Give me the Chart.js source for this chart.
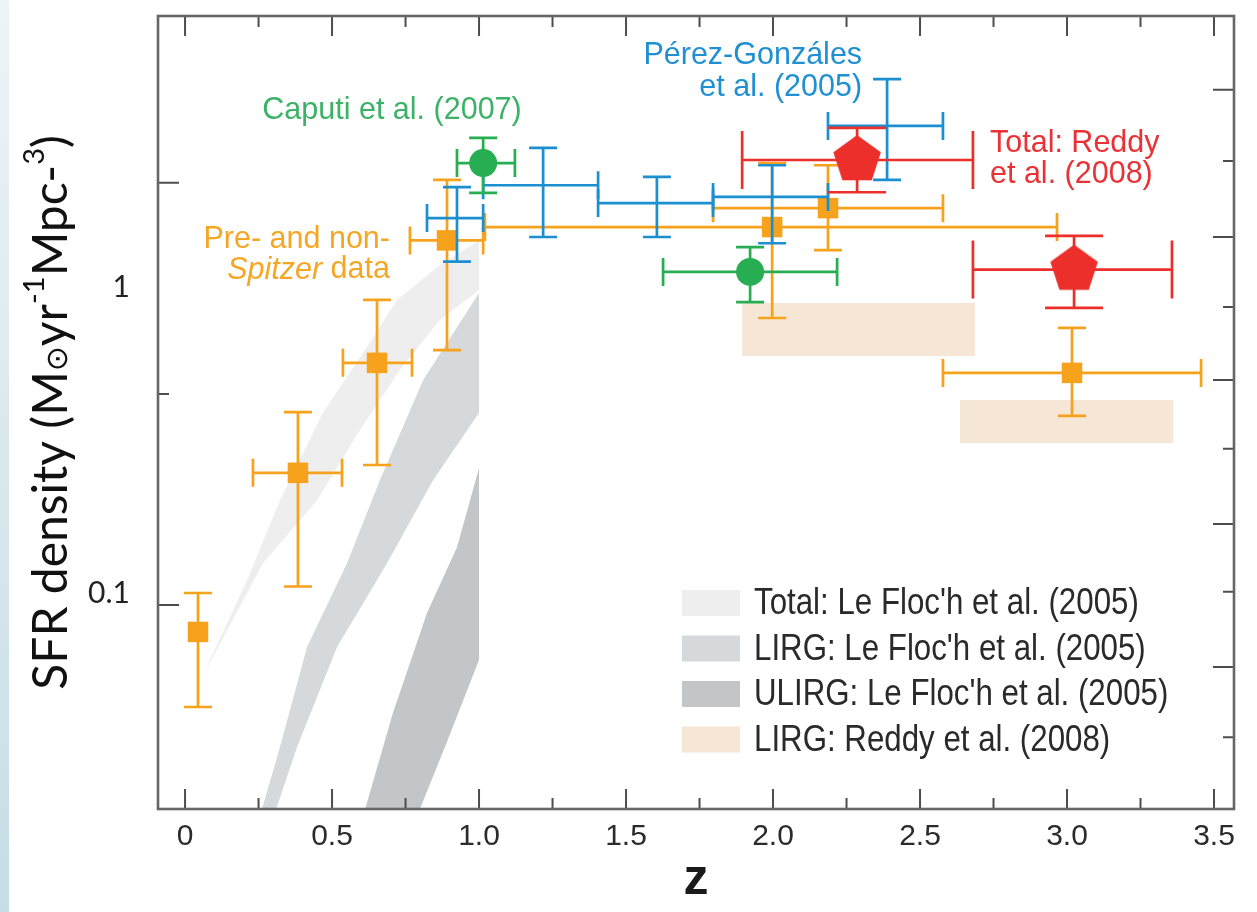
<!DOCTYPE html>
<html>
<head>
<meta charset="utf-8">
<title>SFR density vs redshift</title>
<script src="https://cdn.jsdelivr.net/npm/chart.js@4.4.1/dist/chart.umd.min.js"></script>
<style>
  html, body { margin: 0; padding: 0; background: #fff; }
  body { width: 1257px; height: 912px; overflow: hidden; position: relative; }
  #wrap { position: absolute; left: 0; top: 0; width: 1257px; height: 912px; }
  #edge { position: absolute; left: 0; top: 0; width: 9px; height: 912px;
          background: linear-gradient(#edf4f6, #c6dde5); }
</style>
</head>
<body>
<div id="wrap"><canvas id="sfr" width="1257" height="912"></canvas></div>
<div id="edge"></div>
<script>
// axis ticks
const zTicks = [0, 0.25, 0.5, 0.75, 1, 1.25, 1.5, 1.75, 2, 2.25, 2.5, 2.75, 3, 3.25, 3.5];
const zLabels = [0, 0.5, 1, 1.5, 2, 2.5, 3, 3.5];
const sfrLabels = [1, 0.1];
const leftTicks = [2.19, 0.447, 0.0913];
const rightTicks = [4.41, 2.58, 1.457, 0.860, 0.497, 0.296, 0.168, 0.101, 0.0573, 0.0338];

// Pre- and non-Spitzer data (orange squares)
const preZ   = [0.044, 0.384, 0.653, 0.891, 1.997, 2.187, 3.017];
const preZLo = [null, 0.231, 0.537, 0.765, 1.020, 1.796, 2.578];
const preZHi = [null, 0.534, 0.772, 1.014, 2.966, 2.578, 3.456];
const preSfr = [0.0746, 0.247, 0.565, 1.42, 1.57, 1.81, 0.524];
const preLo  = [0.0424, 0.105, 0.262, 0.622, 0.792, 1.32, 0.379];
const preHi  = [0.100, 0.390, 0.907, 2.24, 2.54, 2.50, 0.735];

// Perez-Gonzalez et al. (2005), error bars only
const pgZ   = [0.925, 1.218, 1.605, 1.997, 2.388];
const pgZLo = [0.823, 1.014, 1.405, 1.796, 2.187];
const pgZHi = [1.014, 1.405, 1.796, 2.187, 2.578];
const pgSfr = [1.68, 2.15, 1.88, 1.97, 3.36];
const pgLo  = [1.21, 1.457, 1.457, 1.39, 2.24];
const pgHi  = [2.12, 2.85, 2.29, 2.50, 4.78];

// Caputi et al. (2007)
const capZ   = [1.014, 1.922];
const capZLo = [0.925, 1.626];
const capZHi = [1.122, 2.218];
const capSfr = [2.54, 1.12];
const capLo  = [2.03, 0.893];
const capHi  = [3.07, 1.35];

// Total: Reddy et al. (2008)
const redZ   = [2.286, 3.024];
const redZLo = [1.895, 2.680];
const redZHi = [2.680, 3.357];
const redSfr = [2.60, 1.14];
const redLo  = [2.04, 0.854];
const redHi  = [3.31, 1.47];

// LIRG: Reddy et al. (2008) boxes
const lirgRedZ   = [[1.895, 2.687], [2.636, 3.361]];
const lirgRedSfr = [[0.595, 0.887], [0.309, 0.427]];

// Le Floc'h et al. (2005) bands, outline traced round each band
const totalBandZ   = [0.058, 0.211, 0.323, 0.469, 0.619, 0.721, 0.867, 1.0, 1.0, 0.867, 0.731, 0.595, 0.449, 0.265, 0.058];
const totalBandSfr = [0.0531, 0.110, 0.201, 0.388, 0.637, 0.907, 1.18, 1.42, 0.978, 0.780, 0.536, 0.341, 0.201, 0.125, 0.0531];
const lirgBandZ    = [0.241, 0.323, 0.415, 0.551, 0.663, 0.810, 1.0, 1.0, 0.844, 0.687, 0.517, 0.381, 0.286];
const lirgBandSfr  = [0.0168, 0.0314, 0.0666, 0.125, 0.234, 0.497, 0.956, 0.388, 0.234, 0.125, 0.0666, 0.0314, 0.0168];
const ulirgBandZ   = [0.592, 0.707, 0.823, 0.925, 1.0, 1.0, 0.884, 0.770];
const ulirgBandSfr = [0.0168, 0.0405, 0.086, 0.141, 0.256, 0.0604, 0.0314, 0.0168];

const ORANGE = '#f6a21c', BLUE = '#1b8fd0', GREEN = '#27ad52', RED = '#ec2f2b';
const SANS = '"Liberation Sans", Arial, sans-serif';

function pts(zs, vs) { return zs.map((z, i) => ({ x: z, y: vs[i] })); }
function box(zr, vr) {
  return [{ x: zr[0], y: vr[0] }, { x: zr[1], y: vr[0] }, { x: zr[1], y: vr[1] }, { x: zr[0], y: vr[1] }, { x: zr[0], y: vr[0] }];
}
function pentagon(r, color) {
  const c = document.createElement('canvas');
  const s = Math.ceil(r * 2) + 2;
  c.width = s; c.height = s;
  const g = c.getContext('2d');
  g.fillStyle = color;
  g.beginPath();
  for (let k = 0; k < 5; k++) {
    const a = -Math.PI / 2 + k * 2 * Math.PI / 5;
    const px = s / 2 + r * Math.cos(a), py = s / 2 + r * Math.sin(a);
    if (k) g.lineTo(px, py); else g.moveTo(px, py);
  }
  g.closePath();
  g.fill();
  return c;
}

function band(label, zs, vs, color, order, inLegend) {
  return {
    type: 'line', label: label, data: pts(zs, vs), order: order,
    backgroundColor: color, borderColor: 'rgba(0,0,0,0)', borderWidth: 0,
    pointRadius: 0, fill: 'shape', tension: 0, showLine: true, inLegend: inLegend
  };
}
function series(label, zs, vs, err, color, style, radius, order) {
  return {
    label: label, data: pts(zs, vs), order: order, errors: err, errColor: color,
    backgroundColor: color, borderWidth: 0, pointStyle: style, pointRadius: radius,
    pointHoverRadius: radius
  };
}

const annotations = [
  { parts: [{ t: 'Caputi et al. (2007)' }], z: 0.704, v: 3.85, align: 'center', color: '#3cb267' },
  { parts: [{ t: 'Pérez-Gonzáles' }], z: 2.303, v: 5.82, align: 'right', color: '#2090d2' },
  { parts: [{ t: 'et al. (2005)' }], z: 2.303, v: 4.57, align: 'right', color: '#2090d2' },
  { parts: [{ t: 'Total: Reddy' }], z: 2.738, v: 3.02, align: 'left', color: '#ea3135' },
  { parts: [{ t: 'et al. (2008)' }], z: 2.738, v: 2.38, align: 'left', color: '#ea3135' },
  { parts: [{ t: 'Pre- and non-' }], z: 0.697, v: 1.457, align: 'right', color: '#f6a623' },
  { parts: [{ t: 'Spitzer', italic: true }, { t: ' data' }], z: 0.697, v: 1.162, align: 'right', color: '#f6a623' }
];
const NOTE_SIZE = 30.5;

function drawErrors(chart, ds) {
  const ctx = chart.ctx, xs = chart.scales.x, ys = chart.scales.y, e = ds.errors;
  ctx.save();
  ctx.strokeStyle = ds.errColor;
  ctx.lineWidth = 2.7;
  const cap = e.cap / 2;
  e.z.forEach((z, i) => {
    const x = xs.getPixelForValue(z), y = ys.getPixelForValue(e.v[i]);
    const yl = ys.getPixelForValue(e.lo[i]), yh = ys.getPixelForValue(e.hi[i]);
    ctx.beginPath();
    ctx.moveTo(x, yl); ctx.lineTo(x, yh);
    ctx.moveTo(x - cap, yl); ctx.lineTo(x + cap, yl);
    ctx.moveTo(x - cap, yh); ctx.lineTo(x + cap, yh);
    if (e.zLo[i] !== null) {
      const xl = xs.getPixelForValue(e.zLo[i]), xh = xs.getPixelForValue(e.zHi[i]);
      ctx.moveTo(xl, y); ctx.lineTo(xh, y);
      ctx.moveTo(xl, y - cap); ctx.lineTo(xl, y + cap);
      ctx.moveTo(xh, y - cap); ctx.lineTo(xh, y + cap);
    }
    ctx.stroke();
  });
  ctx.restore();
}

function drawYTitle(ctx, cx, cy) {
  const size = 48;
  const segs = [
    { t: 'SFR density (M', s: 1, dy: 0 },
    { t: '⊙', s: 0.62, dy: 0.12 },
    { t: 'yr', s: 1, dy: 0 },
    { t: '-1', s: 0.6, dy: -0.36 },
    { t: 'Mpc-', s: 1, dy: 0 },
    { t: '3', s: 0.6, dy: -0.36 },
    { t: ')', s: 1, dy: 0 }
  ];
  ctx.save();
  ctx.translate(cx, cy);
  ctx.rotate(-Math.PI / 2);
  ctx.fillStyle = '#111';
  ctx.textBaseline = 'middle';
  ctx.textAlign = 'left';
  let total = 0;
  segs.forEach(sg => {
    ctx.font = Math.round(size * sg.s) + 'px Lato, "DejaVu Sans", sans-serif';
    sg.w = ctx.measureText(sg.t).width;
    total += sg.w;
  });
  let x = -total / 2;
  segs.forEach(sg => {
    ctx.font = Math.round(size * sg.s) + 'px Lato, "DejaVu Sans", sans-serif';
    ctx.fillText(sg.t, x, sg.dy * size);
    x += sg.w;
  });
  ctx.restore();
}

const frame = {
  id: 'frame',
  beforeDatasetDraw(chart, args) {
    const ds = chart.data.datasets[args.index];
    if (ds.errors) drawErrors(chart, ds);
  },
  afterDraw(chart) {
    const ctx = chart.ctx, a = chart.chartArea, xs = chart.scales.x, ys = chart.scales.y;
    ctx.save();
    // tick marks, all pointing into the plot
    ctx.strokeStyle = '#4d4d4d';
    ctx.lineWidth = 2;
    ctx.beginPath();
    zTicks.forEach(z => {
      const x = xs.getPixelForValue(z);
      const len = Number.isInteger(z * 2) ? 20 : 11;
      ctx.moveTo(x, a.bottom); ctx.lineTo(x, a.bottom - len);
      ctx.moveTo(x, a.top); ctx.lineTo(x, a.top + len);
    });
    leftTicks.forEach((v, i) => {
      const y = ys.getPixelForValue(v);
      ctx.moveTo(a.left, y); ctx.lineTo(a.left + (i % 2 ? 11 : 21), y);
    });
    rightTicks.forEach((v, i) => {
      const y = ys.getPixelForValue(v);
      ctx.moveTo(a.right, y); ctx.lineTo(a.right - (i % 2 ? 11 : 21), y);
    });
    ctx.stroke();
    // frame
    ctx.strokeStyle = '#666';
    ctx.lineWidth = 2.6;
    ctx.strokeRect(a.left, a.top, a.right - a.left, a.bottom - a.top);

    // annotations
    ctx.textBaseline = 'middle';
    annotations.forEach(n => {
      const x = xs.getPixelForValue(n.z), y = ys.getPixelForValue(n.v) + 3;
      let w = 0;
      n.parts.forEach(p => {
        ctx.font = (p.italic ? 'italic ' : '') + NOTE_SIZE + 'px ' + SANS;
        p.w = ctx.measureText(p.t).width;
        w += p.w;
      });
      let x0 = n.align === 'right' ? x - w : n.align === 'center' ? x - w / 2 : x;
      ctx.fillStyle = n.color;
      ctx.textAlign = 'left';
      n.parts.forEach(p => {
        ctx.font = (p.italic ? 'italic ' : '') + NOTE_SIZE + 'px ' + SANS;
        ctx.fillText(p.t, x0, y);
        x0 += p.w;
      });
    });

    // legend (condensed text)
    let row = 603;
    chart.data.datasets.filter(d => d.inLegend).forEach(d => {
      ctx.fillStyle = d.backgroundColor;
      ctx.fillRect(682, row - 13, 58, 26);
      ctx.save();
      ctx.translate(754, row + 1);
      ctx.scale(0.845, 1);
      ctx.fillStyle = '#2a2a2a';
      ctx.font = '37px ' + SANS;
      ctx.textAlign = 'left';
      ctx.fillText(d.label, 0, 0);
      ctx.restore();
      row += 45.5;
    });

    drawYTitle(ctx, 52, (a.top + a.bottom) / 2);
    ctx.restore();
  }
};

new Chart(document.getElementById('sfr'), {
  type: 'scatter',
  data: {
    datasets: [
      series('Total: Reddy et al. (2008)', redZ, redSfr,
        { z: redZ, v: redSfr, zLo: redZLo, zHi: redZHi, lo: redLo, hi: redHi, cap: 58 },
        RED, pentagon(25, RED), 25, 1),
      series('Caputi et al. (2007)', capZ, capSfr,
        { z: capZ, v: capSfr, zLo: capZLo, zHi: capZHi, lo: capLo, hi: capHi, cap: 28 },
        GREEN, 'circle', 14, 2),
      series('Pérez-Gonzáles et al. (2005)', pgZ, pgSfr,
        { z: pgZ, v: pgSfr, zLo: pgZLo, zHi: pgZHi, lo: pgLo, hi: pgHi, cap: 28 },
        BLUE, 'circle', 0, 3),
      series('Pre- and non-Spitzer data', preZ, preSfr,
        { z: preZ, v: preSfr, zLo: preZLo, zHi: preZHi, lo: preLo, hi: preHi, cap: 28 },
        ORANGE, 'rect', 14.5, 4),
      band("Total: Le Floc'h et al. (2005)", totalBandZ, totalBandSfr, '#eeeeef', 13, true),
      band("LIRG: Le Floc'h et al. (2005)", lirgBandZ, lirgBandSfr, '#d5d9db', 12, true),
      band("ULIRG: Le Floc'h et al. (2005)", ulirgBandZ, ulirgBandSfr, '#c4c5c9', 11, true),
      Object.assign(band('LIRG: Reddy et al. (2008)', [], [], '#f6e6d6', 10, true),
        { data: box(lirgRedZ[0], lirgRedSfr[0]) }),
      Object.assign(band('LIRG: Reddy et al. (2008)', [], [], '#f6e6d6', 10, false),
        { data: box(lirgRedZ[1], lirgRedSfr[1]) })
    ]
  },
  options: {
    responsive: false,
    animation: false,
    events: [],
    layout: { autoPadding: false, padding: { top: 16, right: 23, left: 0, bottom: 0 } },
    plugins: { legend: { display: false }, tooltip: { enabled: false } },
    scales: {
      x: {
        type: 'linear', min: -0.092, max: 3.568,
        grid: { display: false, drawTicks: false },
        border: { display: false },
        afterBuildTicks: s => { s.ticks = zLabels.map(v => ({ value: v })); },
        afterFit: s => { s.height = 103; s.paddingLeft = 0; s.paddingRight = 0; },
        ticks: {
          padding: 10, color: '#2b2b2b', maxRotation: 0, autoSkip: false,
          font: { family: SANS, size: 30 },
          callback: v => (v === 0 ? '0' : v.toFixed(1))
        },
        title: {
          display: true, text: 'z', color: '#1a1a1a', padding: { top: 0, bottom: 2 },
          font: { family: SANS, size: 50, weight: 'bold' }
        }
      },
      y: {
        type: 'logarithmic', min: 0.01968, max: 7.685,
        grid: { display: false, drawTicks: false },
        border: { display: false },
        afterBuildTicks: s => { s.ticks = sfrLabels.map(v => ({ value: v })); },
        afterFit: s => { s.width = 158; s.paddingTop = 0; s.paddingBottom = 0; },
        ticks: {
          padding: 28, color: '#222',
          font: { family: 'Lato, sans-serif', size: 30 },
          callback: v => String(v)
        }
      }
    }
  },
  plugins: [frame]
});
</script>
</body>
</html>
